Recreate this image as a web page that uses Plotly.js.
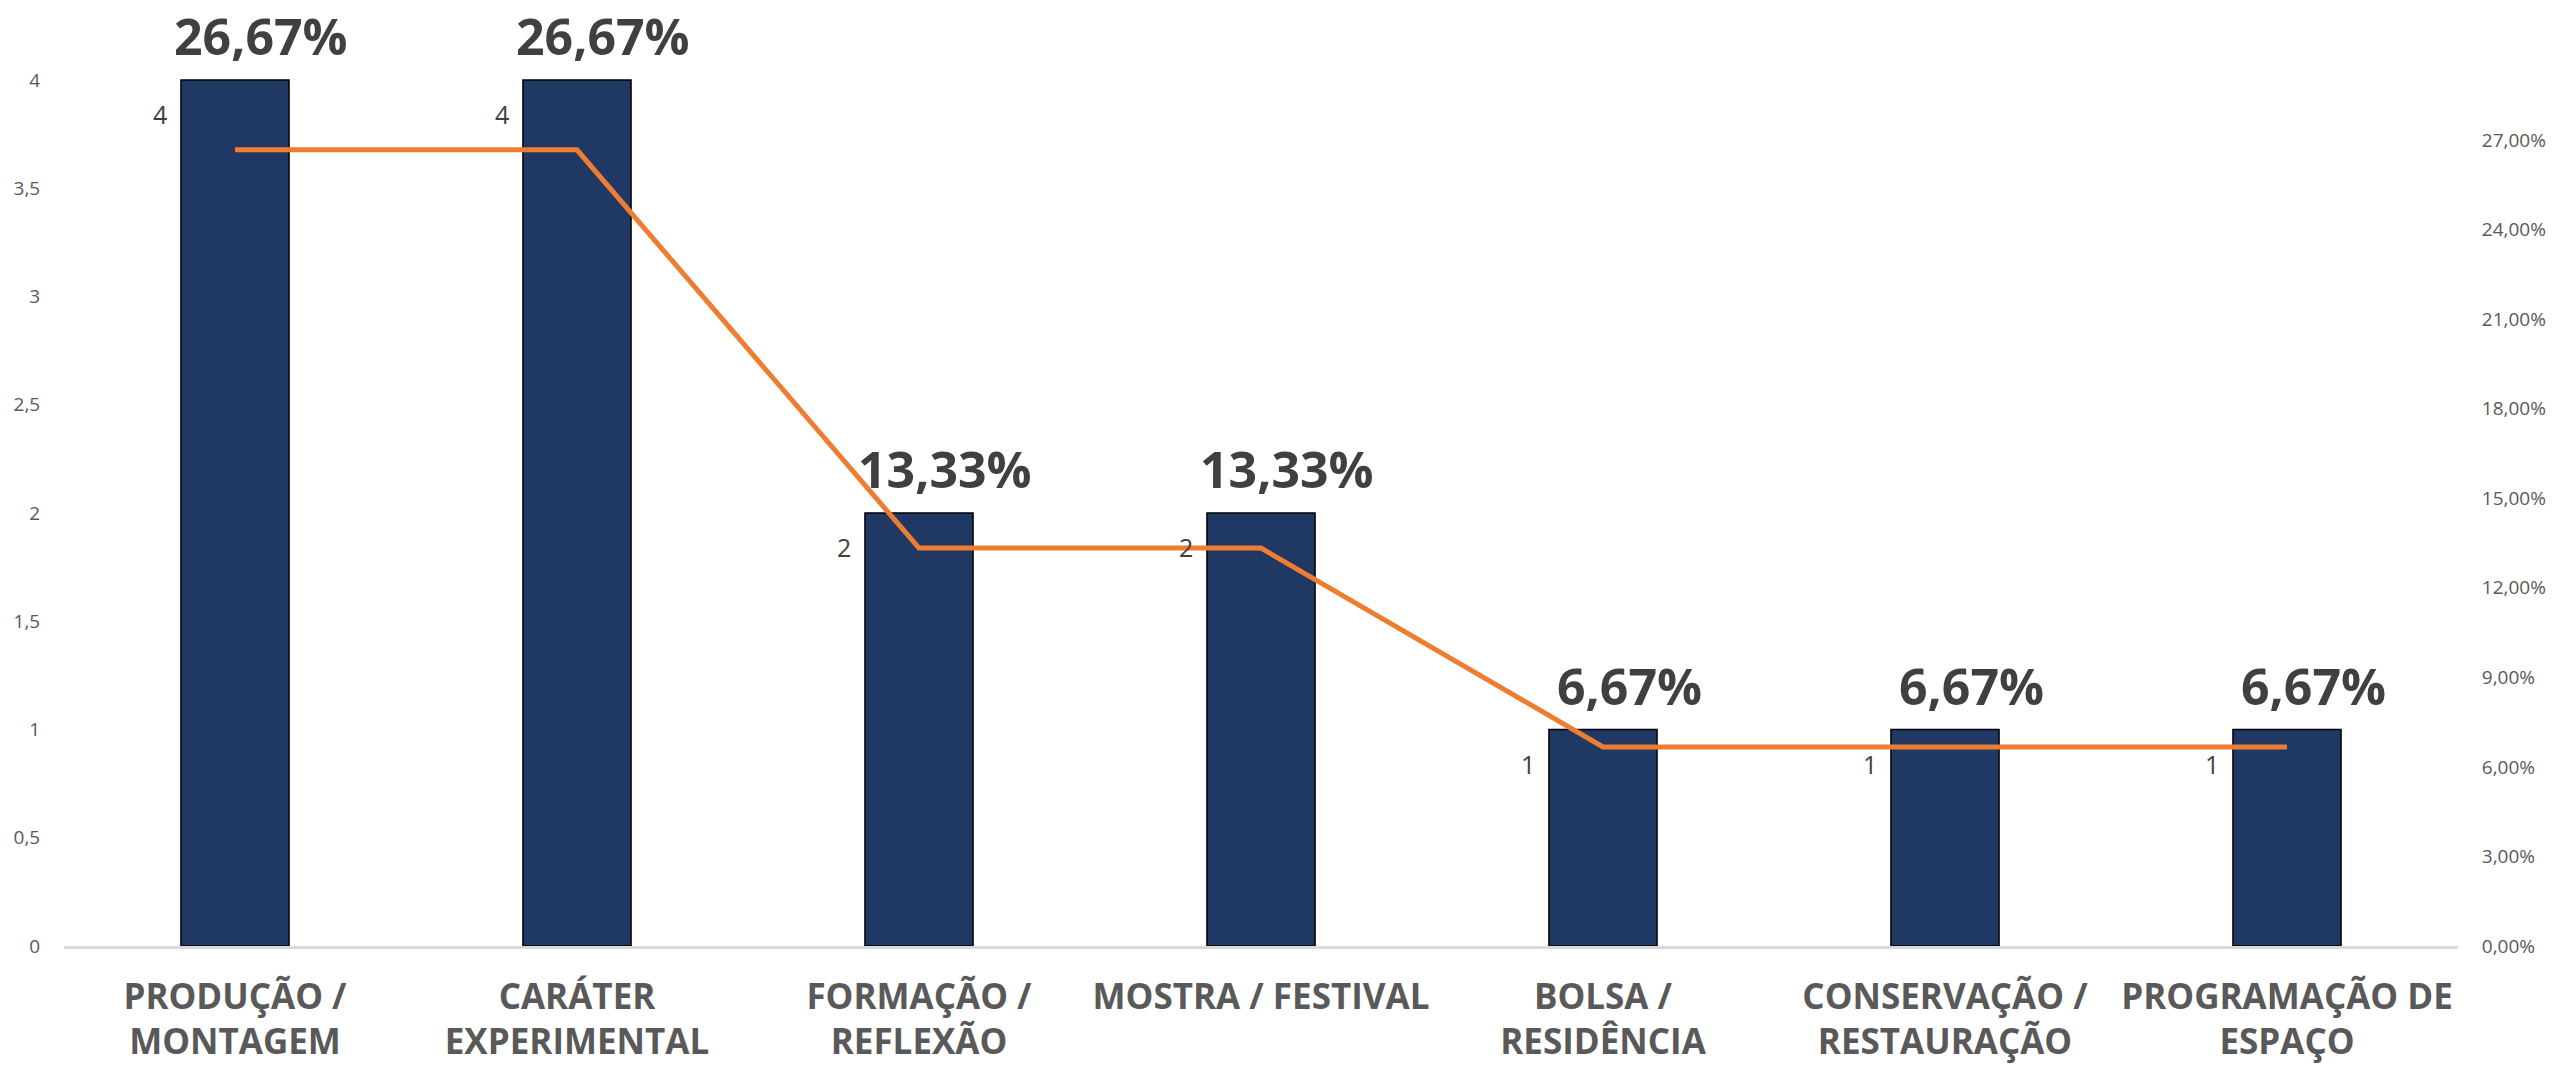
<!DOCTYPE html>
<html>
<head>
<meta charset="utf-8">
<script src="https://cdn.plot.ly/plotly-3.0.1.min.js"></script>
<style>html,body{margin:0;padding:0;background:#fff;}#chart{width:2552px;height:1065px;}</style>
</head>
<body>
<div id="chart"></div>
<script>
const categories = ["PRODUÇÃO / MONTAGEM", "CARÁTER EXPERIMENTAL", "FORMAÇÃO / REFLEXÃO", "MOSTRA / FESTIVAL", "BOLSA / RESIDÊNCIA", "CONSERVAÇÃO / RESTAURAÇÃO", "PROGRAMAÇÃO DE ESPAÇO"];
const tickLabels = ["PRODUÇÃO /<br>MONTAGEM", "CARÁTER<br>EXPERIMENTAL", "FORMAÇÃO /<br>REFLEXÃO", "MOSTRA / FESTIVAL", "BOLSA /<br>RESIDÊNCIA", "CONSERVAÇÃO /<br>RESTAURAÇÃO", "PROGRAMAÇÃO DE<br>ESPAÇO"];
const counts = [4, 4, 2, 2, 1, 1, 1];
const percents = [0.2667, 0.2667, 0.1333, 0.1333, 0.0667, 0.0667, 0.0667];
const leftTicks = [0, 0.5, 1, 1.5, 2, 2.5, 3, 3.5, 4];
const rightTicks = [0, 0.03, 0.06, 0.09, 0.12, 0.15, 0.18, 0.21, 0.24, 0.27];

const fmtPct = v => (v * 100).toFixed(2).replace('.', ',') + '%';

const traces = [
  {
    type: 'bar', x: categories, y: counts,
    marker: {color: '#203864', line: {color: '#000000', width: 1.5}},
    hoverinfo: 'none'
  },
  {
    type: 'scatter', mode: 'lines', x: categories, y: percents, yaxis: 'y2',
    line: {color: '#ED7D31', width: 5}, hoverinfo: 'none'
  }
];

const annotations = [];
categories.forEach((c, i) => {
  annotations.push({
    x: c, y: counts[i], xref: 'x', yref: 'y', text: fmtPct(percents[i]),
    showarrow: false, xanchor: 'center', yanchor: 'middle', xshift: 26, yshift: 44,
    font: {family: 'Open Sans', size: 50, color: '#404040', weight: 'bold'}
  });
  annotations.push({
    x: c, y: counts[i], xref: 'x', yref: 'y', text: String(counts[i]),
    showarrow: false, xanchor: 'right', yanchor: 'middle', xshift: -66, yshift: -34,
    font: {family: 'Open Sans', size: 25, color: '#404040'}
  });
});

const layout = {
  width: 2552, height: 1065,
  margin: {l: 64, r: 94, t: 0, b: 119, pad: 0},
  paper_bgcolor: '#ffffff', plot_bgcolor: '#ffffff',
  separators: ',.',
  showlegend: false,
  bargap: 0.684,
  font: {family: 'Open Sans', color: '#595959'},
  xaxis: {
    type: 'category', tickvals: categories, ticktext: tickLabels,
    showline: true, linecolor: '#D9D9D9', linewidth: 2.5,
    showgrid: false, zeroline: false,
    ticks: 'outside', ticklen: 18, tickcolor: 'rgba(0,0,0,0)',
    tickfont: {family: 'Open Sans', size: 35, color: '#595959', weight: 'bold'},
    fixedrange: true
  },
  yaxis: {
    range: [0, 4.3695], tickvals: leftTicks,
    showgrid: false, zeroline: false, showline: false,
    ticks: 'outside', ticklen: 19, tickcolor: 'rgba(0,0,0,0)',
    tickfont: {family: 'Open Sans', size: 19, color: '#595959'}
  },
  yaxis2: {
    overlaying: 'y', side: 'right', range: [0, 0.3169], tickvals: rightTicks,
    tickformat: '.2%',
    showgrid: false, zeroline: false, showline: false,
    ticks: 'outside', ticklen: 19, tickcolor: 'rgba(0,0,0,0)',
    tickfont: {family: 'Open Sans', size: 19, color: '#595959'}
  },
  annotations: annotations
};

Plotly.newPlot('chart', traces, layout, {displayModeBar: false, staticPlot: true});
</script>
</body>
</html>
